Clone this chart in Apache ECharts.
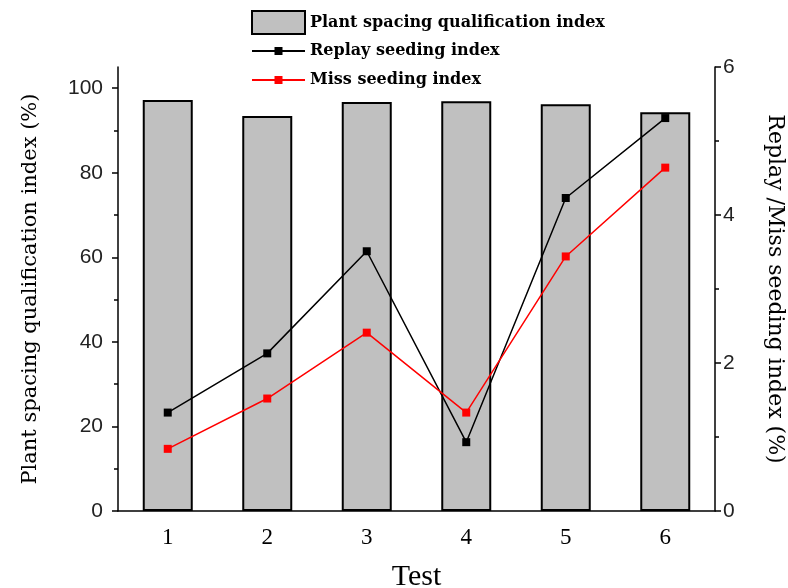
<!DOCTYPE html>
<html>
<head>
<meta charset="utf-8">
<script src="https://cdn.jsdelivr.net/npm/echarts@6/dist/echarts.min.js"></script>
<style>
  html, body { margin: 0; padding: 0; background: #fff; }
  #chart { width: 788px; height: 588px; }
</style>
</head>
<body>
<div id="chart"></div>
<script>
// data
const tests = ['1', '2', '3', '4', '5', '6']
const spacingIndex = [97.2, 93.4, 96.7, 96.9, 96.2, 94.3]
const replayIndex = [1.33, 2.13, 3.51, 0.93, 4.23, 5.31]
const missIndex = [0.84, 1.52, 2.41, 1.33, 3.44, 4.64]
const leftTicks = [0, 20, 40, 60, 80, 100]
const leftMinorTicks = [10, 30, 50, 70, 90]

const serif = 'Liberation Serif'
const wideSerif = 'DejaVu Serif'
const sans = 'Liberation Sans'

const chart = echarts.init(document.getElementById('chart'))

const legendText = { fontFamily: wideSerif, fontSize: 16, fontWeight: 'bold', color: '#000' }

const option = {
  backgroundColor: '#fff',
  animation: false,
  legend: [
    {
      data: [{ name: 'Plant spacing qualification index', icon: 'rect' }],
      left: 246,
      top: 5,
      itemWidth: 53,
      itemHeight: 23,
      itemStyle: { borderColor: '#000', borderWidth: 2 },
      textStyle: legendText
    },
    {
      data: ['Replay seeding index', 'Miss seeding index'],
      orient: 'vertical',
      left: 246,
      top: 38,
      itemWidth: 53,
      itemHeight: 10,
      itemGap: 13,
      textStyle: legendText
    }
  ],
  grid: {
    left: 118,
    right: 73,
    top: 67,
    bottom: 77,
    outerBoundsMode: 'none'
  },
  xAxis: [
    {
      type: 'category',
      data: tests,
      name: 'Test',
      nameLocation: 'middle',
      nameGap: 51,
      nameTextStyle: { fontFamily: serif, fontSize: 30, color: '#000' },
      axisLine: { lineStyle: { color: '#000', width: 1.5 } },
      axisTick: { alignWithLabel: true, length: 6, lineStyle: { color: '#000', width: 1.5 } },
      axisLabel: { fontFamily: serif, fontSize: 23, color: '#000', margin: 15 },
      splitLine: { show: false }
    },
    {
      type: 'category',
      data: tests,
      position: 'bottom',
      axisLine: { show: false },
      axisTick: { length: 4, lineStyle: { color: '#000', width: 1.5 } },
      axisLabel: { show: false },
      splitLine: { show: false }
    }
  ],
  yAxis: [
    {
      type: 'value',
      min: 0,
      max: 105,
      interval: 20,
      name: 'Plant spacing qualification index (%)',
      nameLocation: 'middle',
      nameGap: 77,
      nameTextStyle: { fontFamily: wideSerif, fontSize: 21, color: '#000' },
      axisLine: { show: true, lineStyle: { color: '#000', width: 1.5 } },
      axisTick: { show: true, length: 6, customValues: leftTicks, lineStyle: { color: '#000', width: 1.5 } },
      axisLabel: { customValues: leftTicks, fontFamily: sans, fontSize: 21, color: '#222', margin: 15 },
      splitLine: { show: false }
    },
    {
      type: 'value',
      min: 0,
      max: 6,
      interval: 2,
      position: 'right',
      name: 'Replay /Miss seeding index (%)',
      nameLocation: 'middle',
      nameRotate: -90,
      nameGap: 49,
      nameTextStyle: { fontFamily: wideSerif, fontSize: 22, color: '#000' },
      axisLine: { show: true, lineStyle: { color: '#000', width: 1.5 } },
      axisTick: { show: true, length: 6, lineStyle: { color: '#000', width: 1.5 } },
      minorTick: { show: true, splitNumber: 2, length: 4, lineStyle: { color: '#000', width: 1.5 } },
      axisLabel: { fontFamily: sans, fontSize: 21, color: '#222', margin: 8 },
      splitLine: { show: false }
    },
    {
      type: 'value',
      min: 0,
      max: 105,
      position: 'left',
      axisLine: { show: false },
      axisTick: { show: true, length: 4, customValues: leftMinorTicks, lineStyle: { color: '#000', width: 1.5 } },
      axisLabel: { show: false },
      splitLine: { show: false }
    }
  ],
  series: [
    {
      name: 'Plant spacing qualification index',
      type: 'bar',
      xAxisIndex: 0,
      yAxisIndex: 0,
      barWidth: 50,
      data: spacingIndex,
      itemStyle: { color: '#c0c0c0', borderColor: '#000', borderWidth: 2 }
    },
    {
      name: 'Replay seeding index',
      type: 'line',
      xAxisIndex: 0,
      yAxisIndex: 1,
      data: replayIndex,
      symbol: 'rect',
      symbolSize: 8,
      lineStyle: { color: '#000', width: 1.5 },
      itemStyle: { color: '#000' }
    },
    {
      name: 'Miss seeding index',
      type: 'line',
      xAxisIndex: 0,
      yAxisIndex: 1,
      data: missIndex,
      symbol: 'rect',
      symbolSize: 8,
      lineStyle: { color: '#ff0000', width: 1.5 },
      itemStyle: { color: '#ff0000' }
    }
  ]
}

chart.setOption(option)
</script>
</body>
</html>
